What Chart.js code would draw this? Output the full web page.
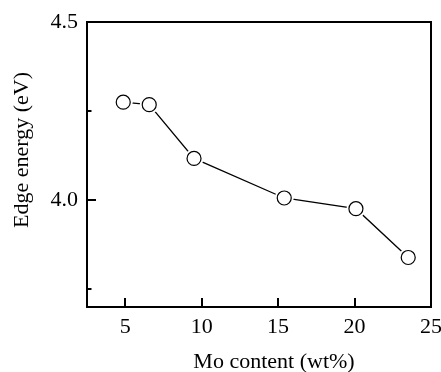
<!DOCTYPE html>
<html>
<head>
<meta charset="utf-8">
<script src="https://cdn.jsdelivr.net/npm/chart.js@4.4.1/dist/chart.umd.min.js"></script>
<style>
    html, body { margin: 0; padding: 0; background: #fff; }
    #wrap { width: 441px; height: 372px; }
</style>
</head>
<body>
<div id="wrap"><canvas id="chart" width="441" height="372"></canvas></div>
<script>
var moContent = [4.87, 6.57, 9.5, 15.4, 20.09, 23.51];
var edgeEnergy = [4.275, 4.268, 4.117, 4.006, 3.976, 3.839];

var xTicks = [5, 10, 15, 20, 25];
var yTicks = [3.75, 4.0, 4.25, 4.5];
var yLabelled = [4.0, 4.5];

var xTitle = 'Mo content (wt%)';
var yTitle = 'Edge energy (eV)';

var points = moContent.map((x, i) => ({ x: x, y: edgeEnergy[i] }));

Chart.defaults.font.family = "'Liberation Serif', 'Times New Roman', serif";
Chart.defaults.font.size = 22;
Chart.defaults.color = '#000';

/*
----------------------------------
     frame, inward ticks, titles
----------------------------------
*/
const frameAndTitles = {
    id: 'frameAndTitles',
    afterDraw(chart) {
        const ctx = chart.ctx;
        const area = chart.chartArea;
        const xs = chart.scales.x;
        const ys = chart.scales.y;

        ctx.save();
        ctx.strokeStyle = '#000';
        ctx.lineWidth = 2;
        ctx.strokeRect(area.left, area.top, area.right - area.left, area.bottom - area.top);

        ctx.beginPath();
        xTicks.forEach(v => {
            var px = Math.round(xs.getPixelForValue(v));
            ctx.moveTo(px, area.bottom);
            ctx.lineTo(px, area.bottom - 9);
        });
        yTicks.forEach(v => {
            var py = Math.round(ys.getPixelForValue(v));
            var len = yLabelled.includes(v) ? 9 : 4.5;
            ctx.moveTo(area.left, py);
            ctx.lineTo(area.left + len, py);
        });
        ctx.stroke();

        ctx.fillStyle = '#000';
        ctx.font = "22px 'Liberation Serif', 'Times New Roman', serif";
        ctx.textAlign = 'center';
        ctx.textBaseline = 'middle';
        ctx.fillText(xTitle, 274, 362);

        ctx.translate(22, 150);
        ctx.rotate(-Math.PI / 2);
        ctx.fillText(yTitle, 0, 0);
        ctx.restore();
    }
};

new Chart(document.getElementById('chart'), {
    type: 'scatter',
    data: {
        datasets: [
            {
                // open circles on top
                data: points,
                showLine: false,
                pointRadius: 7,
                pointBorderWidth: 1.2,
                pointBackgroundColor: '#fff',
                pointBorderColor: '#000'
            },
            {
                // connecting line, with white halos to leave a gap round each circle
                data: points,
                showLine: true,
                borderColor: '#000',
                borderWidth: 1.3,
                pointRadius: 9.5,
                pointBorderWidth: 0,
                pointBackgroundColor: '#fff',
                pointBorderColor: '#fff'
            }
        ]
    },
    options: {
        responsive: false,
        animation: false,
        devicePixelRatio: 1,
        layout: {
            padding: { top: 22, right: 10, left: 0, bottom: 0 }
        },
        plugins: {
            legend: { display: false },
            tooltip: { enabled: false }
        },
        scales: {
            x: {
                type: 'linear',
                min: 2.5,
                max: 25,
                grid: { display: false, drawTicks: false },
                border: { display: false },
                afterBuildTicks: (scale) => {
                    scale.ticks = xTicks.map(v => ({ value: v }));
                },
                afterFit: (scale) => {
                    scale.height = 65;
                    scale.paddingLeft = 0;
                    scale.paddingRight = 0;
                },
                ticks: {
                    padding: 7,
                    maxRotation: 0,
                    autoSkip: false,
                    callback: (value) => String(value)
                }
            },
            y: {
                type: 'linear',
                min: 3.7,
                max: 4.5,
                grid: { display: false, drawTicks: false },
                border: { display: false },
                afterBuildTicks: (scale) => {
                    scale.ticks = yTicks.map(v => ({ value: v }));
                },
                afterFit: (scale) => {
                    scale.width = 87;
                    scale.paddingTop = 0;
                    scale.paddingBottom = 0;
                },
                ticks: {
                    padding: 9,
                    autoSkip: false,
                    callback: (value) => yLabelled.includes(value) ? value.toFixed(1) : ''
                }
            }
        }
    },
    plugins: [frameAndTitles]
});
</script>
</body>
</html>
